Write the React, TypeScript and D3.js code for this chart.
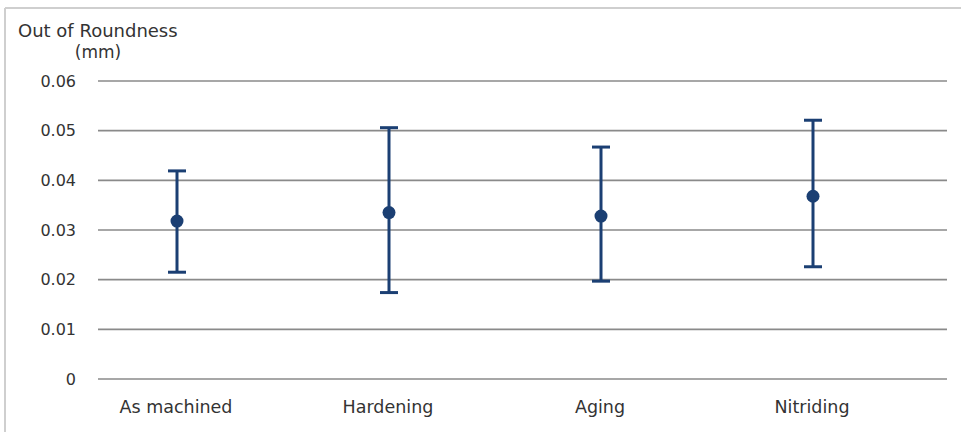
import React from "react";
import * as d3 from "d3";

const categories = ["As machined", "Hardening", "Aging", "Nitriding"];
const meanValues = [0.0318, 0.0335, 0.0328, 0.0368];
const upperValues = [0.0419, 0.0506, 0.0467, 0.0521];
const lowerValues = [0.0215, 0.0174, 0.0197, 0.0226];
const yTicks = [0, 0.01, 0.02, 0.03, 0.04, 0.05, 0.06];
const yTickLabels = ["0", "0.01", "0.02", "0.03", "0.04", "0.05", "0.06"];

const W = 961;
const H = 432;
const FONT = "'DejaVu Sans', 'Open Sans', sans-serif";
const NAVY = "#1b3f73";
const TEXT = "#333333";

export default function App() {
  const x = d3.scaleBand<string>().domain(categories).range([71, 919]).padding(0);
  const y = d3.scaleLinear().domain([0, 0.06]).range([379, 81]);
  const capHalf = 9;

  return (
    <svg
      width={W}
      height={H}
      style={{ position: "absolute", left: 0, top: 0, background: "#fff" }}
      fontFamily={FONT}
    >
      {/* frame */}
      <line x1={5} x2={5} y1={8} y2={H} stroke="#cfcfcf" strokeWidth={2} />
      <line x1={5} x2={W} y1={8} y2={8} stroke="#cfcfcf" strokeWidth={2} />

      {/* axis title */}
      <text x={18} y={37} fontSize={18} fill={TEXT}>Out of Roundness</text>
      <text x={98} y={58} fontSize={17} fill={TEXT} textAnchor="middle">(mm)</text>

      {/* grid + tick labels */}
      {yTicks.map((t, i) => (
        <g key={i}>
          <line x1={98} x2={947} y1={y(t)} y2={y(t)} stroke="#8a8a8a" strokeWidth={1.6} />
          <text
            x={76}
            y={y(t)}
            dy="0.36em"
            fontSize={16}
            fill={TEXT}
            textAnchor="end"
          >
            {yTickLabels[i]}
          </text>
        </g>
      ))}

      {/* error bars */}
      {categories.map((c, i) => {
        const cx = (x(c) as number) + x.bandwidth() / 2;
        return (
          <g key={c}>
            <line x1={cx} x2={cx} y1={y(upperValues[i])} y2={y(lowerValues[i])} stroke={NAVY} strokeWidth={3} />
            <line x1={cx - capHalf} x2={cx + capHalf} y1={y(upperValues[i])} y2={y(upperValues[i])} stroke={NAVY} strokeWidth={3} />
            <line x1={cx - capHalf} x2={cx + capHalf} y1={y(lowerValues[i])} y2={y(lowerValues[i])} stroke={NAVY} strokeWidth={3} />
            <circle cx={cx} cy={y(meanValues[i])} r={6.5} fill={NAVY} />
            <text x={cx - 1} y={413} fontSize={17.5} fill={TEXT} textAnchor="middle">
              {c}
            </text>
          </g>
        );
      })}
    </svg>
  );
}
